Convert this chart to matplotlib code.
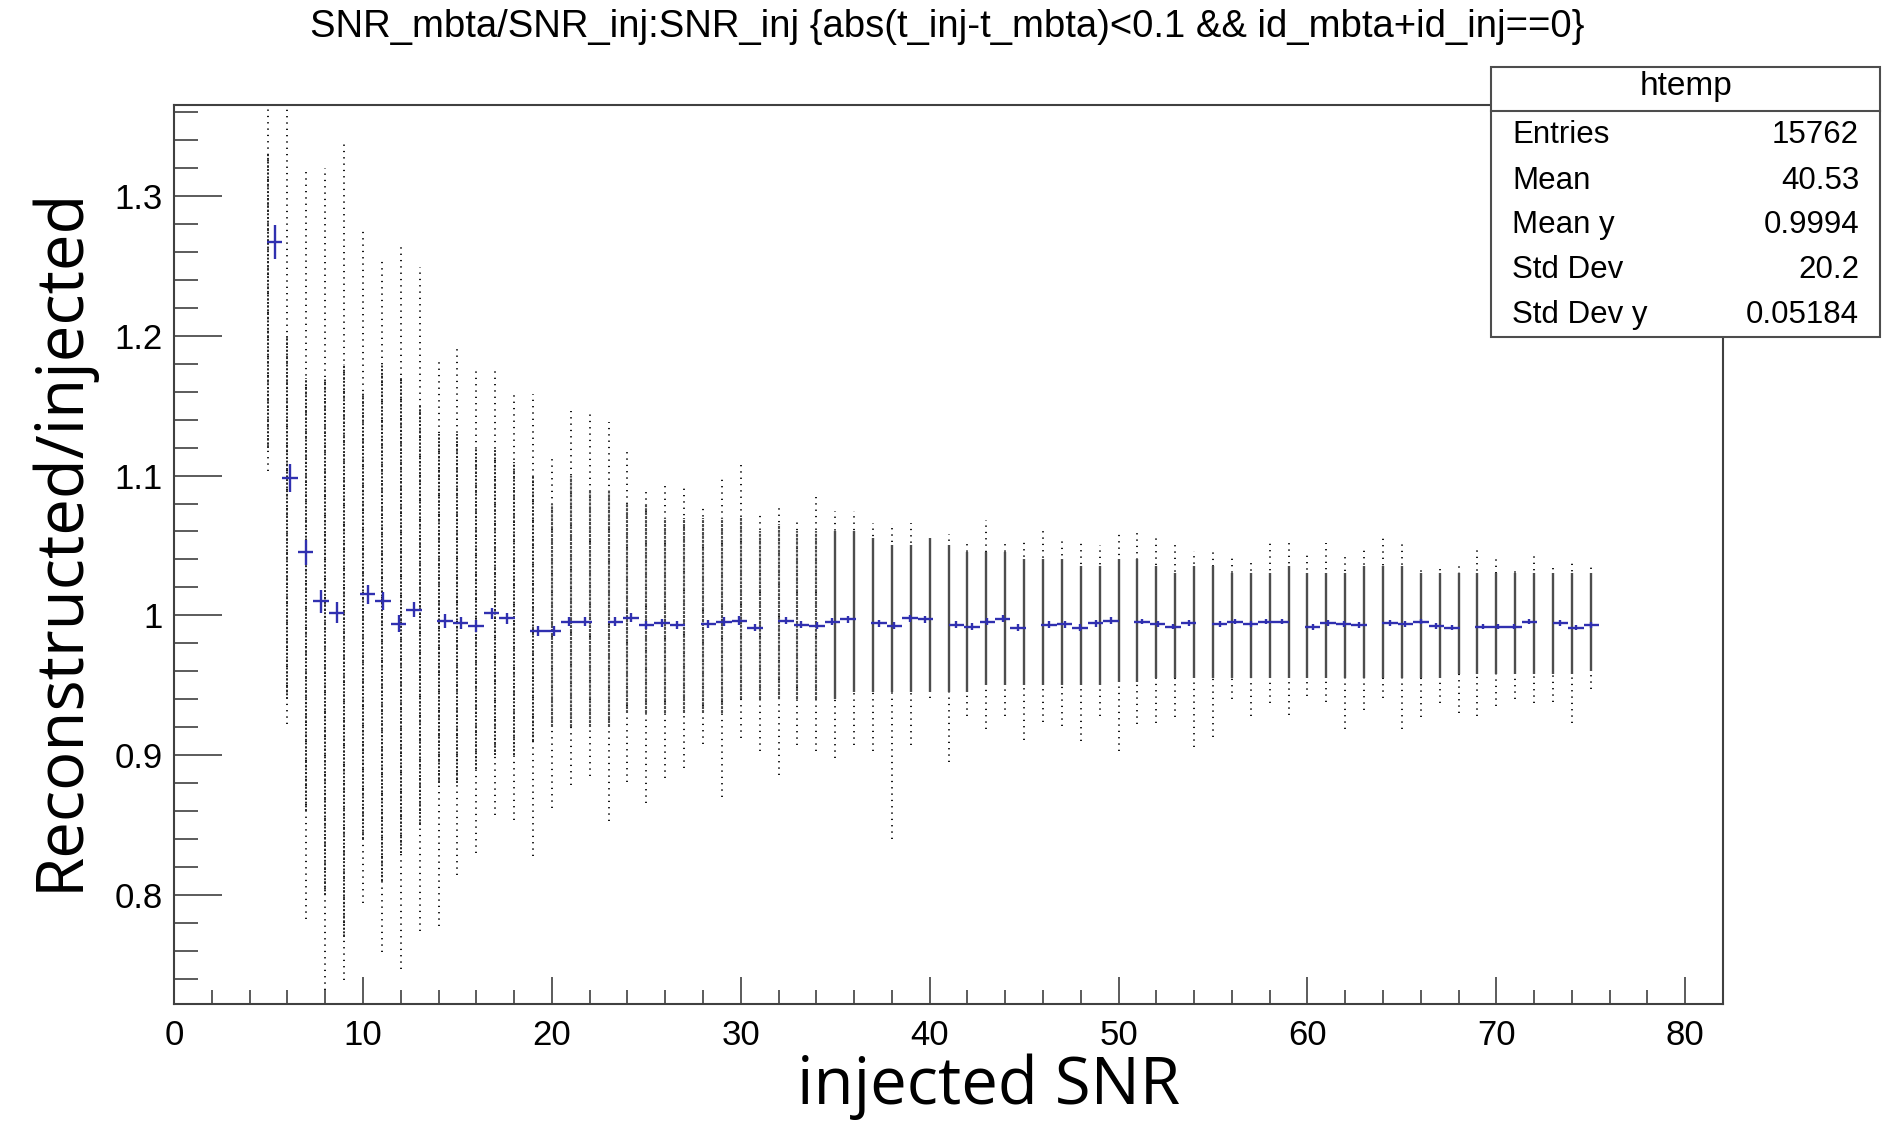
import numpy as np
import matplotlib
matplotlib.use("Agg")
import matplotlib.pyplot as plt
from matplotlib.patches import Rectangle
from matplotlib.lines import Line2D

# colonnes de SNR injecté (une colonne de points par valeur entière)
snr = np.arange(5, 76)

# extension de chaque colonne: points isolés (haut/bas) et partie dense
y_top = [1.37, 1.365, 1.32, 1.32, 1.339, 1.276, 1.254, 1.264, 1.249, 1.181,
         1.191, 1.178, 1.177, 1.159, 1.158, 1.115, 1.146, 1.144, 1.138, 1.118,
         1.091, 1.094, 1.094, 1.080, 1.100, 1.108, 1.074, 1.080, 1.068, 1.085,
         1.075, 1.075, 1.066, 1.066, 1.066, 1.058, 1.058, 1.052, 1.068, 1.053,
         1.054, 1.060, 1.056, 1.052, 1.050, 1.060, 1.061, 1.058, 1.050, 1.046,
         1.047, 1.041, 1.040, 1.054, 1.052, 1.043, 1.052, 1.043, 1.048, 1.058,
         1.051, 1.035, 1.033, 1.037, 1.048, 1.043, 1.033, 1.043, 1.036, 1.038,
         1.035]
y_core_hi = [1.33, 1.20, 1.17, 1.17, 1.18, 1.16, 1.18, 1.17, 1.15, 1.13,
             1.13, 1.12, 1.12, 1.11, 1.10, 1.08, 1.10, 1.09, 1.09, 1.08,
             1.08, 1.07, 1.07, 1.07, 1.07, 1.07, 1.06, 1.065, 1.06, 1.06,
             1.06, 1.06, 1.055, 1.05, 1.05, 1.055, 1.05, 1.045, 1.045, 1.045,
             1.04, 1.04, 1.04, 1.035, 1.035, 1.04, 1.04, 1.035, 1.03, 1.035,
             1.035, 1.03, 1.03, 1.03, 1.035, 1.03, 1.03, 1.03, 1.035, 1.035,
             1.035, 1.03, 1.03, 1.03, 1.03, 1.03, 1.03, 1.03, 1.03, 1.03,
             1.03]
y_core_lo = [1.12, 0.94, 0.86, 0.80, 0.77, 0.84, 0.81, 0.83, 0.85, 0.88,
             0.88, 0.89, 0.90, 0.90, 0.91, 0.92, 0.92, 0.92, 0.92, 0.93,
             0.93, 0.93, 0.93, 0.93, 0.93, 0.94, 0.94, 0.94, 0.94, 0.94,
             0.94, 0.945, 0.945, 0.945, 0.945, 0.945, 0.945, 0.945, 0.95, 0.95,
             0.95, 0.95, 0.95, 0.95, 0.95, 0.952, 0.952, 0.955, 0.955, 0.955,
             0.955, 0.955, 0.955, 0.955, 0.955, 0.955, 0.955, 0.955, 0.955, 0.955,
             0.955, 0.955, 0.955, 0.958, 0.958, 0.958, 0.958, 0.958, 0.958, 0.958,
             0.96]
y_bot = [1.103, 0.922, 0.783, 0.732, 0.739, 0.794, 0.759, 0.747, 0.774, 0.778,
         0.814, 0.830, 0.857, 0.854, 0.828, 0.862, 0.879, 0.885, 0.853, 0.881,
         0.866, 0.884, 0.891, 0.908, 0.870, 0.912, 0.903, 0.886, 0.907, 0.903,
         0.898, 0.907, 0.903, 0.840, 0.907, 0.941, 0.895, 0.928, 0.919, 0.928,
         0.911, 0.924, 0.921, 0.910, 0.928, 0.903, 0.922, 0.923, 0.927, 0.906,
         0.913, 0.940, 0.928, 0.937, 0.929, 0.942, 0.938, 0.919, 0.932, 0.941,
         0.919, 0.927, 0.937, 0.930, 0.928, 0.935, 0.940, 0.937, 0.938, 0.923,
         0.947]

# profil (TProfile, 100 bins entre 0 et 82): bin, moyenne, erreur
prof_bin = [6, 7, 8, 9, 10, 12, 13, 14, 15, 17, 18, 19, 20, 21, 23, 24, 25, 26,
            28, 29, 30, 31, 32, 34, 35, 36, 37, 39, 40, 41, 42, 43, 45, 46, 47,
            48, 50, 51, 52, 53, 54, 56, 57, 58, 59, 60, 62, 63, 64, 65, 67, 68,
            69, 70, 71, 73, 74, 75, 76, 78, 79, 80, 81, 82, 84, 85, 86, 87, 89,
            90, 91]
prof_mean = [1.267, 1.098, 1.045, 1.010, 1.002, 1.015, 1.010, 0.994, 1.004,
             0.9963, 0.9944, 0.9925, 1.0016, 0.998, 0.9891, 0.9889, 0.9956,
             0.9956, 0.9956, 0.9984, 0.9932, 0.9944, 0.9932, 0.9937, 0.9956,
             0.9963, 0.9913, 0.9963, 0.9932, 0.9925, 0.9956, 0.9973, 0.9944,
             0.9925, 0.998, 0.9973, 0.9932, 0.992, 0.9956, 0.9975, 0.9913,
             0.9932, 0.9937, 0.9913, 0.9944, 0.9963, 0.9956, 0.9937, 0.992,
             0.9946, 0.9937, 0.9956, 0.9937, 0.9956, 0.9956, 0.9915, 0.9946,
             0.9937, 0.9932, 0.9946, 0.9937, 0.9956, 0.9925, 0.9913, 0.992,
             0.992, 0.992, 0.9956, 0.9946, 0.9913, 0.9932]
prof_err = [0.012, 0.010, 0.009, 0.008, 0.0075, 0.007, 0.0065, 0.006, 0.0055,
            0.005, 0.0045, 0.0045, 0.004, 0.004, 0.0035, 0.0035,
            0.003, 0.003, 0.003, 0.003, 0.003, 0.003, 0.003, 0.003, 0.003, 0.003,
            0.0025, 0.0025, 0.0025, 0.0025, 0.0025, 0.0025, 0.0025, 0.0025,
            0.0025, 0.0025, 0.0025, 0.0025, 0.0025, 0.0025, 0.0025, 0.0025,
            0.0025, 0.0025, 0.0025, 0.0025,
            0.002, 0.002, 0.002, 0.002, 0.002, 0.002, 0.002, 0.002, 0.002,
            0.002, 0.002, 0.002, 0.002, 0.002, 0.002, 0.002, 0.002, 0.002,
            0.002, 0.002, 0.002, 0.002, 0.002, 0.002, 0.002]

stats_names = ["Entries", "Mean", "Mean y", "Std Dev", "Std Dev y"]
stats_vals = ["15762", "40.53", "0.9994", "20.2", "0.05184"]

y_ticks = [0.8, 0.9, 1.0, 1.1, 1.2, 1.3]
y_ticklabels = ["0.8", "0.9", "1", "1.1", "1.2", "1.3"]

title = "SNR_mbta/SNR_inj:SNR_inj {abs(t_inj-t_mbta)<0.1 && id_mbta+id_inj==0}"

root_font = "Liberation Sans"
x_max = 82.0
bw = x_max / 100

fig = plt.figure(figsize=(18.98, 11.26), dpi=100)
ax = fig.add_axes([0.0917, 0.1083, 0.8161, 0.7984])

snr_arr = np.array(snr)
lo_arr = np.array(y_core_lo)
hi_arr = np.array(y_core_hi)
low = snr_arr < 20
mid = (snr_arr >= 20) & (snr_arr < 35)
high = snr_arr >= 35

# points épars (pointillés clairsemés)
ax.vlines(snr_arr, y_bot, y_top, colors="black", linewidth=1.3,
          linestyles=[(0, (0.7, 2.8))], zorder=2)
# partie dense des colonnes
ax.vlines(snr_arr[low], lo_arr[low], hi_arr[low], colors="0.15",
          linewidth=1.4, linestyles=[(0, (1.0, 0.9))], zorder=2)
ax.vlines(snr_arr[mid], lo_arr[mid], hi_arr[mid], colors="0.3",
          linewidth=1.5, linestyles=[(0, (1.4, 0.5))], zorder=2)
ax.vlines(snr_arr[high], lo_arr[high], hi_arr[high], colors="0.3",
          linewidth=1.7, zorder=2)

# profil en bleu
px = (np.array(prof_bin) + 0.5) * bw
ax.errorbar(px, prof_mean, xerr=bw / 2, yerr=prof_err, fmt="none",
            ecolor="#3030b0", elinewidth=1.7, capsize=0, zorder=4)

ax.set_xlim(0, x_max)
ax.set_ylim(0.722, 1.365)
ax.set_xticks(np.arange(0, 81, 10))
ax.set_xticks(np.arange(0, 81, 2), minor=True)
ax.set_yticks(y_ticks)
ax.set_yticklabels(y_ticklabels)
ax.set_yticks(np.round(np.arange(37, 69) * 0.02, 2), minor=True)

for lab in ax.get_xticklabels() + ax.get_yticklabels():
    lab.set_family(root_font)
    lab.set_fontsize(25)

ax.tick_params(axis="x", which="major", direction="in", length=19.5, width=1.2,
               color="0.25", pad=11)
ax.tick_params(axis="x", which="minor", direction="in", length=10, width=1.2,
               color="0.25")
ax.tick_params(axis="y", which="major", direction="in", length=34.5, width=1.2,
               color="0.25", pad=8)
ax.tick_params(axis="y", which="minor", direction="in", length=17.3, width=1.2,
               color="0.25")
for sp in ax.spines.values():
    sp.set_color("0.25")
    sp.set_linewidth(1.5)

# titres
fig.text(0.499, 0.976, title, ha="center", va="center", fontsize=27.5,
         family=root_font)
fig.text(989 / 1898, 1 - 1087 / 1126, "injected SNR", ha="center", va="center",
         fontsize=47, family="Open Sans")
fig.text(60 / 1898, 1 - 539 / 1126, "Reconstructed/injected", ha="center",
         va="center", fontsize=47, family="Open Sans", rotation=90)

# boîte de statistiques (style ROOT)
bx0, bx1 = 1491 / 1898, 1880 / 1898
by0, by1 = 1 - 337 / 1126, 1 - 67 / 1126
fig.add_artist(Rectangle((bx0, by0), bx1 - bx0, by1 - by0,
                         transform=fig.transFigure, facecolor="white",
                         edgecolor="0.3", linewidth=1.5, zorder=5))
fig.add_artist(Line2D([bx0, bx1], [1 - 111 / 1126] * 2, transform=fig.transFigure,
                      color="0.3", linewidth=1.5, zorder=6))
fig.text((bx0 + bx1) / 2, 1 - 87 / 1126, "htemp", ha="center", va="center",
         fontsize=24, family=root_font, zorder=7)
row_y = [135, 181, 225, 270, 315]
for name, val, ry in zip(stats_names, stats_vals, row_y):
    fig.text(1512 / 1898, 1 - ry / 1126, name, ha="left", va="center",
             fontsize=22.5, family=root_font, zorder=7)
    fig.text(1859 / 1898, 1 - ry / 1126, val, ha="right", va="center",
             fontsize=22.5, family=root_font, zorder=7)

fig.savefig("out.png", dpi=100)
